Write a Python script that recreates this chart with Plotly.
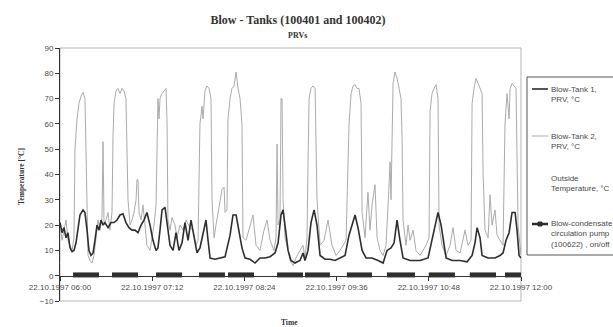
import pandas as pd
import plotly.graph_objects as go

# ---------------- data (minutes after 22.10.1997 06:00) ----------------
BASE = pd.Timestamp("1997-10-22 06:00")

tank1_min = [0, 1.6, 3.1, 4.7, 6.2, 7.8, 9.4, 10.9, 12.5, 14.1, 15.6, 18, 19.5, 21.1, 22.6, 24.2,
             25.8, 27.3, 28.9, 30.5, 32, 33.6, 35.1, 37.5, 39.8, 42.2, 44.5, 46.9, 49.2, 51.5,
             53.9, 56.2, 58.6, 60.9, 63.3, 65.6, 67.9, 70.3, 72.6, 75, 76.5, 78.1, 79.7, 82,
             83.6, 85.9, 88.3, 90.6, 92.9, 95.3, 97.6, 100, 102.3, 104.7, 107, 109.3, 111.7,
             114, 115.6, 117.2, 121, 125, 128.9, 132.8, 135.1, 137.5, 139.8, 142.1, 144.5,
             148.4, 152.3, 156.2, 160.1, 164, 167.9, 170.3, 172.6, 174.2, 175.7, 178.1, 180.4,
             183.5, 187.4, 189.8, 191.3, 193.7, 196, 198.4, 200.7, 203.1, 207, 210.9, 214.8,
             218.7, 222.6, 225.7, 228.8, 230.4, 232.7, 235.9, 239, 243.7, 248.4, 252.3, 255.4,
             258.5, 260.9, 263.2, 265.5, 267.9, 273.4, 281.2, 287.4, 290.5, 293.7, 295.2,
             297.6, 299.9, 301.5, 306.2, 312.4, 317.9, 321.8, 324.1, 325.7, 328, 329.6, 334.3,
             339.7, 343.6, 346, 348.3, 350.7, 353, 355.4, 356.9, 358.5, 360]
tank1_val = [21, 17, 19, 15, 17, 11, 9.5, 10, 13, 19, 24, 26, 25, 18, 10, 8,
             9, 14, 20, 18, 22, 20, 21, 19, 21, 21, 22, 24, 24.5, 21,
             19, 18, 18, 17, 20, 22, 25, 20, 14, 10, 11, 18, 26, 27,
             20, 12, 10, 17, 10, 13, 21, 14, 22, 15, 9, 11, 16,
             22, 14, 7, 6.5, 7, 7.5, 16, 24, 24, 18, 11, 7,
             6.5, 5, 7, 7, 7.5, 9, 13, 24, 26, 20, 10, 6,
             5, 6, 9, 6, 10, 21, 26, 20, 8, 6.5, 6.5, 6,
             7, 8, 16, 22, 24, 19, 10, 7, 7, 6, 5, 10,
             11, 13, 22, 14, 7, 6, 6, 7, 14, 22, 25,
             20, 13, 7, 6, 6, 5.5, 8, 13, 19, 15, 8, 7,
             7, 8, 9, 14, 17, 25, 25, 18, 8, 7]

tank2_min = [0, 1.6, 3.1, 4.7, 6.2, 7.8, 9.4, 10.9, 11.7, 13.3, 14.8, 16.4, 18, 19.5, 21.1, 21.9,
             23.4, 25, 26.6, 28.1, 29.7, 31.2, 32.8, 33.6, 34.4, 35.9, 37.5, 39, 40.6, 41.4,
             42.2, 43.7, 45.3, 46.9, 48.4, 50, 51.5, 53.1, 54.7, 56.2, 57.8, 59.4, 60.1, 60.9,
             61.7, 63.3, 64.8, 66.4, 67.9, 70.3, 71.9, 73.4, 75, 75.8, 76.5, 77.3, 78.1, 79.7,
             81.2, 82.8, 83.6, 84.3, 85.9, 87.5, 89.8, 91.4, 93.7, 96.1, 98.4, 101.5, 103.9,
             106.2, 107.8, 109.3, 110.9, 111.7, 113.2, 114.8, 116.4, 117.9, 118.7, 120.3,
             121.8, 123.4, 125, 126.5, 128.1, 128.9, 130.4, 131.2, 132.8, 134.3, 135.9, 137.5,
             139, 140.6, 142.1, 142.9, 145.3, 148.4, 150.7, 153.1, 156.2, 159.3, 161.7, 164,
             167.1, 168.7, 169.5, 170.3, 171.8, 172.6, 173.4, 174.2, 175.7, 178.1, 179.6, 182,
             184.3, 187.4, 189.8, 191.3, 192.9, 193.7, 194.5, 196, 197.6, 199.2, 200.7, 203.1,
             206.2, 209.3, 212.4, 215.6, 218.7, 223.4, 225.7, 227.3, 228.8, 230.4, 232, 233.5,
             235.1, 235.9, 238.2, 240.5, 242.1, 243.7, 246, 247.6, 249.9, 252.3, 254.6, 256.9,
             257.7, 258.5, 259.3, 260.1, 261.6, 263.2, 264.8, 266.3, 267.1, 267.9, 270.2,
             271.8, 273.4, 275.7, 278, 281.2, 285.8, 288.2, 289, 290.5, 292.1, 293.7, 295.2,
             296, 298.3, 301.5, 304.6, 306.9, 309.3, 312.4, 316.3, 318.6, 321, 321.8, 323.3,
             324.9, 326.5, 328, 329.6, 330.4, 331.9, 334.3, 335.8, 337.4, 339.7, 341.3, 343.6,
             346, 347.5, 349.1, 350.7, 351.5, 353, 354.6, 356.1, 357.7, 359.3, 360]
tank2_val = [20, 14, 18, 22, 14, 12, 10, 15, 50, 62, 68, 71, 72.5, 70, 30, 8,
             6, 5, 8, 15, 22, 18, 23, 53, 20, 22, 25, 18, 25, 55,
             68, 73, 74, 72, 74, 73, 70, 30, 20, 22, 25, 30, 38, 38,
             25, 22, 28, 20, 12, 10, 15, 20, 28, 62, 70, 62, 70, 72,
             73, 74, 60, 22, 18, 23, 20, 15, 20, 18, 22, 19, 18,
             12, 14, 60, 67, 62, 73, 75, 74, 70, 30, 15,
             20, 25, 30, 34, 35, 25, 26, 62, 70, 74, 75, 80.5,
             74, 70, 60, 15, 14, 20, 24, 12, 10, 18, 22, 14,
             10, 15, 52, 20, 22, 70, 70, 30, 15, 10, 6, 4,
             7, 10, 12, 7, 15, 45, 70, 74, 75, 74, 30, 12,
             14, 22, 12, 8, 10, 14, 60, 72, 75, 75.5, 74, 74,
             68, 25, 15, 33, 18, 28, 36, 15, 10, 8, 12, 35,
             45, 30, 60, 76, 80.5, 78, 74, 70, 55, 22, 12,
             20, 14, 18, 10, 8, 12, 15, 65, 72, 74, 75.5, 70,
             20, 12, 8, 12, 19, 10, 9, 18, 12, 14, 68, 74,
             78, 76, 74, 72, 40, 18, 15, 32, 20, 26, 16, 14,
             12, 60, 72, 62, 74, 76, 75, 74, 20, 10, 8]

# outside temperature: not visible in the scanned original (drawn in white)
outside_min = [0, 60, 120, 180, 240, 300, 360]
outside_val = [5, 5, 6, 6, 7, 7, 8]

# pump (100622) on-intervals, minutes after 06:00
pump_on_start = [10.2, 40.6, 75, 108.5, 131.2, 169.5, 191.3, 224, 255.3, 288, 320, 347.5]
pump_on_end = [30.5, 60.9, 95.3, 128.8, 151.5, 189.8, 210.8, 243.6, 277.2, 308.4, 340.5, 360]
PUMP_ON = 0.3

def to_time(mins):
    return [BASE + pd.Timedelta(minutes=m) for m in mins]

pump_x, pump_y = [], []
for s, e in zip(pump_on_start, pump_on_end):
    pump_x += [BASE + pd.Timedelta(minutes=s), BASE + pd.Timedelta(minutes=e), None]
    pump_y += [PUMP_ON, PUMP_ON, None]

DARK = "#2e2e2e"
GRAY = "#ababab"
TXT = "#4a4a4a"
SANS = "Liberation Sans, Arial, sans-serif"
SERIF = "Liberation Serif, Times New Roman, serif"

fig = go.Figure()
fig.add_trace(go.Scatter(x=to_time(outside_min), y=outside_val, mode="lines",
                         line=dict(color="#ffffff", width=1), name="Outside Temperature, °C",
                         showlegend=False))
fig.add_trace(go.Scatter(x=to_time(tank2_min), y=tank2_val, mode="lines",
                         line=dict(color=GRAY, width=1), name="Blow-Tank 2, PRV, °C",
                         showlegend=False))
fig.add_trace(go.Scatter(x=to_time(tank1_min), y=tank1_val, mode="lines",
                         line=dict(color=DARK, width=1.6), name="Blow-Tank 1, PRV, °C",
                         showlegend=False))
fig.add_trace(go.Scatter(x=pump_x, y=pump_y, mode="lines",
                         line=dict(color=DARK, width=5),
                         name="Blow-condensate circulation pump (100622) , on/off",
                         showlegend=False))

# geometry helpers (plot area: x 60..521 px, y 48..301 px)
PL, PR, PT, PB = 60, 521, 48, 301
def px(x):
    return (x - PL) / (PR - PL)
def py(y):
    return (PB - y) / (PB - PT)

shapes = [
    dict(type="rect", xref="paper", yref="paper", x0=0, x1=1, y0=0, y1=1,
         line=dict(color="#b5b5b5", width=1), layer="below"),
    # legend box (runs off the right edge, as in the original)
    dict(type="line", xref="paper", yref="paper", x0=px(527), x1=px(527), y0=py(255), y1=py(77),
         line=dict(color="#555555", width=1)),
    dict(type="line", xref="paper", yref="paper", x0=px(527), x1=px(700), y0=py(77), y1=py(77),
         line=dict(color="#555555", width=1)),
    dict(type="line", xref="paper", yref="paper", x0=px(527), x1=px(700), y0=py(255), y1=py(255),
         line=dict(color="#555555", width=1)),
    dict(type="line", xref="paper", yref="paper", x0=px(532), x1=px(548), y0=py(89), y1=py(89),
         line=dict(color=DARK, width=1.6)),
    dict(type="line", xref="paper", yref="paper", x0=px(532), x1=px(548), y0=py(136), y1=py(136),
         line=dict(color=GRAY, width=1)),
    dict(type="line", xref="paper", yref="paper", x0=px(532), x1=px(548), y0=py(224), y1=py(224),
         line=dict(color=DARK, width=2.5)),
    dict(type="rect", xref="paper", yref="paper", x0=px(538), x1=px(542), y0=py(226), y1=py(222),
         line=dict(color=DARK, width=1), fillcolor=DARK),
]

legend_texts = ["Blow-Tank 1,<br>PRV, °C", "Blow-Tank 2,<br>PRV, °C",
                "Outside<br>Temperature, °C",
                "Blow-condensate<br>circulation pump<br>(100622) , on/off"]
legend_centers = [94.5, 141.5, 183.5, 234]

annotations = []
for t, c in zip(legend_texts, legend_centers):
    annotations.append(dict(text=t, xref="paper", yref="paper", x=px(549), y=py(c),
                            xanchor="left", yanchor="middle", align="left", showarrow=False,
                            font=dict(family=SANS, size=8, color=TXT)))
annotations += [
    dict(text="<b>PRVs</b>", xref="paper", yref="paper", x=px(297), y=py(35),
         xanchor="center", yanchor="middle", showarrow=False,
         font=dict(family=SERIF, size=8, color="#333")),
    dict(text="<b>Temperature [°C]</b>", xref="paper", yref="paper", x=px(22), y=py(177),
         xanchor="center", yanchor="middle", textangle=-90, showarrow=False,
         font=dict(family=SERIF, size=7.5, color="#333")),
    dict(text="<b>Time</b>", xref="paper", yref="paper", x=px(289), y=py(322),
         xanchor="center", yanchor="middle", showarrow=False,
         font=dict(family=SERIF, size=7.5, color="#333")),
]

fig.update_layout(
    width=613, height=327,
    margin=dict(l=PL, r=613 - PR, t=PT, b=327 - PB, autoexpand=False),
    paper_bgcolor="white", plot_bgcolor="white",
    showlegend=False,
    title=dict(text="<b>Blow - Tanks (100401 and 100402)</b>", x=298 / 613, y=1 - 20 / 327,
               xanchor="center", yanchor="middle",
               font=dict(family=SERIF, size=12, color="#333")),
    shapes=shapes, annotations=annotations,
    xaxis=dict(range=[BASE, BASE + pd.Timedelta(hours=6)], anchor="free", position=0.1,
               tick0=BASE, dtick=72 * 60 * 1000, tickformat="%d.%m.%Y %H:%M",
               showline=True, linecolor="#333", linewidth=1, ticks="outside", ticklen=4,
               tickcolor="#333", showgrid=False, zeroline=False,
               tickfont=dict(family=SANS, size=8, color=TXT)),
    yaxis=dict(range=[-10, 90], dtick=10, showline=True, linecolor="#333", linewidth=1,
               ticks="outside", ticklen=4, tickcolor="#333", showgrid=False, zeroline=False,
               tickfont=dict(family=SANS, size=8, color=TXT)),
)

fig.write_html("out.html")
